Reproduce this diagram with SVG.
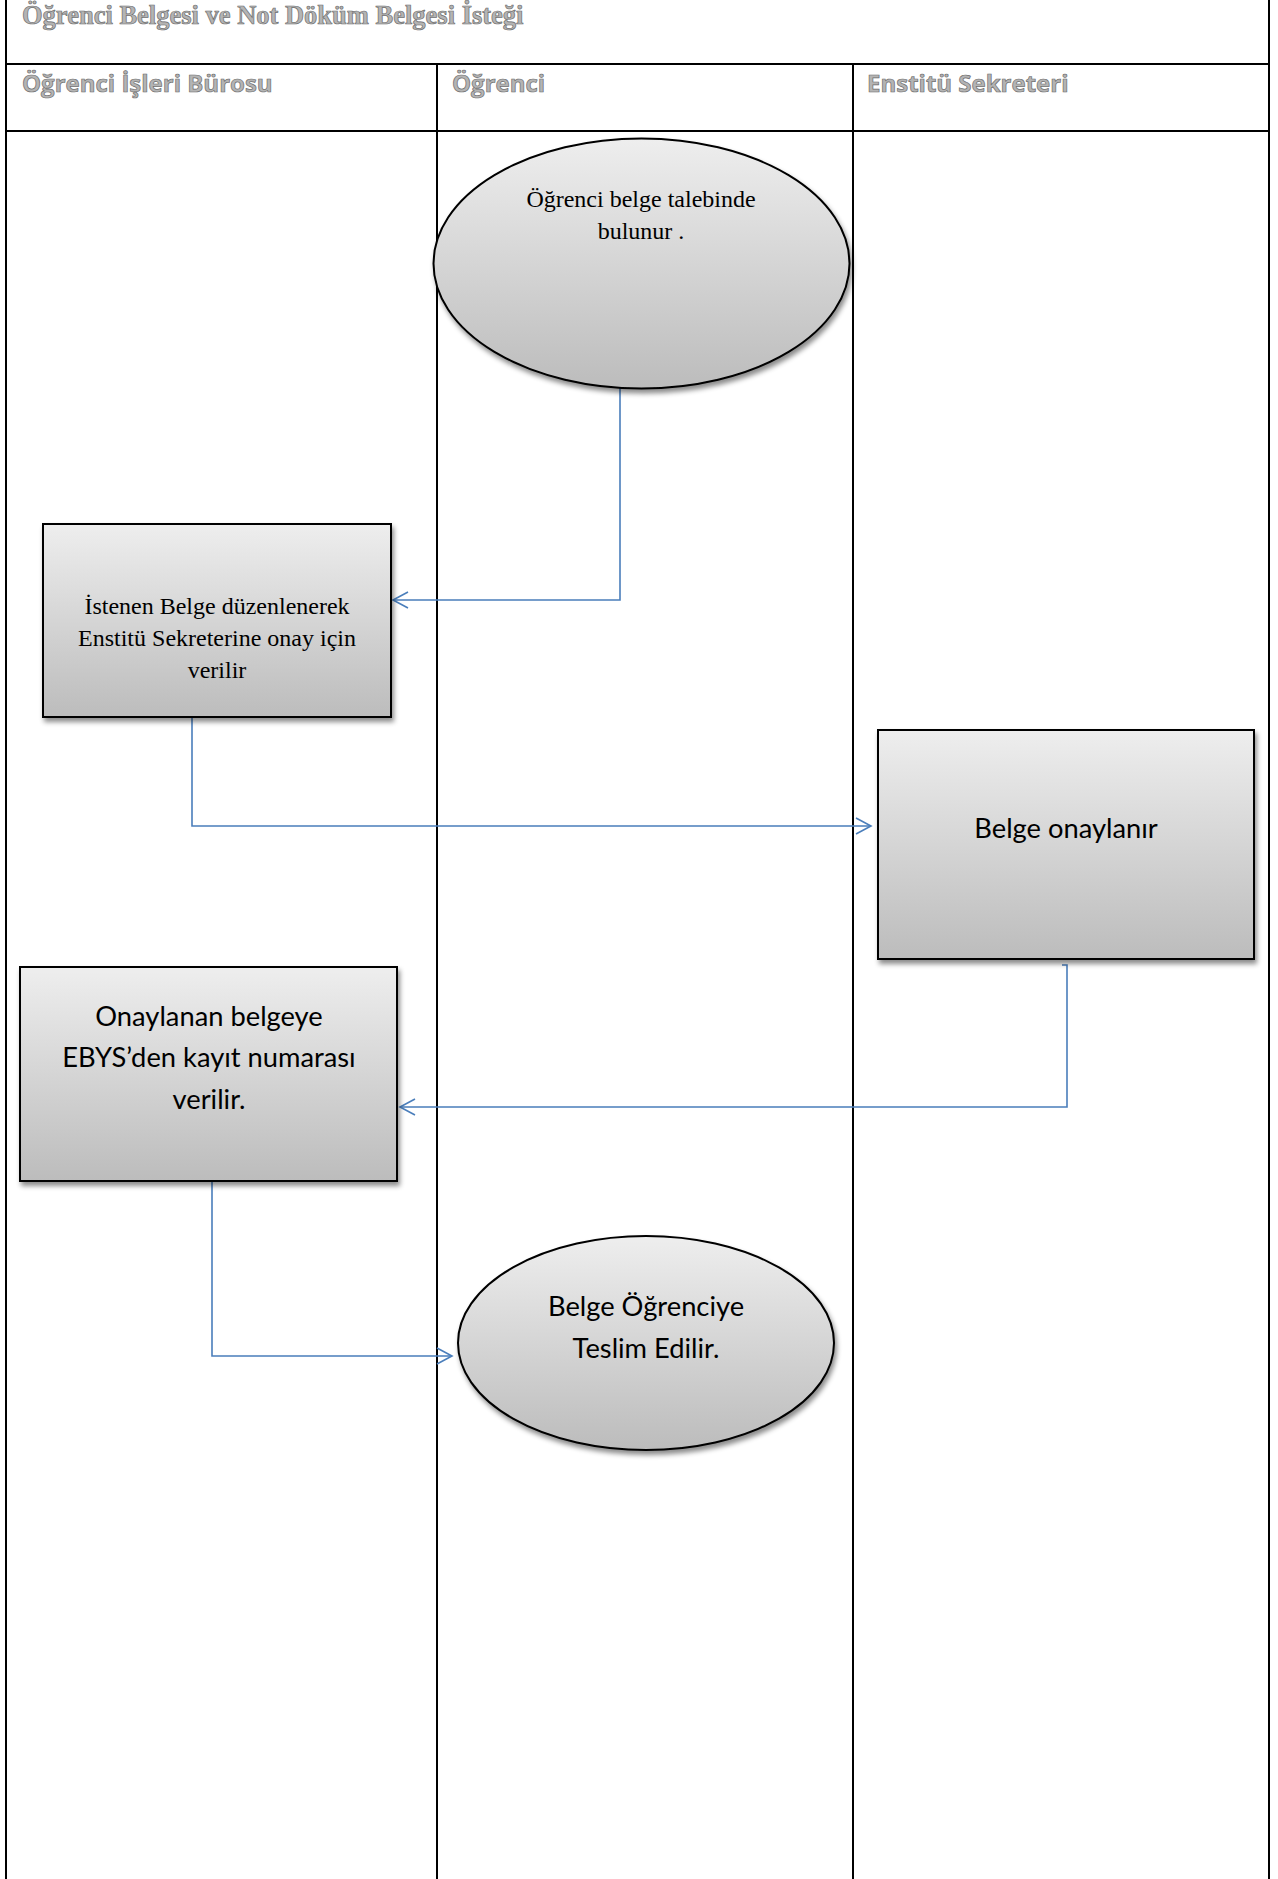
<svg xmlns="http://www.w3.org/2000/svg" width="1278" height="1879" viewBox="0 0 1278 1879">
<style>
.frame{fill:none;stroke:#000;stroke-width:2}
.hdr{font-family:"Open Sans","Liberation Sans",sans-serif;font-weight:bold;font-size:24px;fill:#b4b4b4;stroke:#6e6e6e;stroke-width:0.7}
.title{font-family:"Liberation Serif",serif;font-weight:bold;font-size:26.5px;fill:#b4b4b4;stroke:#6e6e6e;stroke-width:0.7}
.shape{fill:url(#g);stroke:#000;stroke-width:2;filter:url(#sh)}
.tser{font-family:"Liberation Serif",serif;font-size:24px;fill:#000;text-anchor:middle}
.tsan{font-family:Lato,"Liberation Sans",sans-serif;font-size:27.3px;fill:#000;text-anchor:middle}
.con{fill:none;stroke:#4a7ebb;stroke-width:1.6}
</style>
<defs>
<linearGradient id="g" x1="0" y1="0" x2="0" y2="1">
<stop offset="0" stop-color="#eeeeee"/>
<stop offset="1" stop-color="#bcbcbc"/>
</linearGradient>
<filter id="sh" x="-10%" y="-10%" width="125%" height="130%">
<feDropShadow dx="2" dy="4" stdDeviation="2.5" flood-color="#000" flood-opacity="0.45"/>
</filter>
<marker id="ar" markerWidth="20" markerHeight="20" refX="16" refY="10" orient="auto" markerUnits="userSpaceOnUse">
<path d="M1,2 L16,10 L1,18" fill="none" stroke="#4a7ebb" stroke-width="1.6"/>
</marker>
</defs>
<rect width="1278" height="1879" fill="#fff"/>
<g id="lanes">
<line class="frame" x1="6" y1="0" x2="6" y2="1879"/>
<line class="frame" x1="1269" y1="0" x2="1269" y2="1879"/>
<line class="frame" x1="6" y1="64" x2="1269" y2="64"/>
<line class="frame" x1="6" y1="131" x2="1269" y2="131"/>
<line class="frame" x1="437" y1="64" x2="437" y2="1879"/>
<line class="frame" x1="853" y1="64" x2="853" y2="1879"/>
<text class="title" x="22" y="24">Öğrenci Belgesi ve Not Döküm Belgesi İsteği</text>
<text class="hdr" x="22" y="92">Öğrenci İşleri Bürosu</text>
<text class="hdr" x="452" y="92">Öğrenci</text>
<text class="hdr" x="867" y="92">Enstitü Sekreteri</text>
</g>
<g id="connectors">
<path class="con" d="M620,388 V600 H393" marker-end="url(#ar)"/>
<path class="con" d="M192,717 V826 H871" marker-end="url(#ar)"/>
<path class="con" d="M1062,965 H1067 V1107 H400" marker-end="url(#ar)"/>
<path class="con" d="M239,1181 H212 V1356 H452" marker-end="url(#ar)"/>
</g>
<g id="n1">
<ellipse class="shape" cx="641.5" cy="263.5" rx="208" ry="125"/>
<text class="tser" x="641" y="207">Öğrenci belge talebinde</text>
<text class="tser" x="641" y="239">bulunur .</text>
</g>
<g id="n2">
<rect class="shape" x="43" y="524" width="348" height="193"/>
<text class="tser" x="217" y="614">İstenen Belge düzenlenerek</text>
<text class="tser" x="217" y="646">Enstitü Sekreterine onay için</text>
<text class="tser" x="217" y="678">verilir</text>
</g>
<g id="n3">
<rect class="shape" x="878" y="730" width="376" height="229"/>
<text class="tsan" x="1066" y="838">Belge onaylanır</text>
</g>
<g id="n4">
<rect class="shape" x="20" y="967" width="377" height="214"/>
<text class="tsan" x="209" y="1026">Onaylanan belgeye</text>
<text class="tsan" x="209" y="1067">EBYS’den kayıt numarası</text>
<text class="tsan" x="209" y="1109">verilir.</text>
</g>
<g id="n5">
<ellipse class="shape" cx="646" cy="1343" rx="188" ry="107"/>
<text class="tsan" x="646" y="1316">Belge Öğrenciye</text>
<text class="tsan" x="646" y="1358">Teslim Edilir.</text>
</g>
</svg>
